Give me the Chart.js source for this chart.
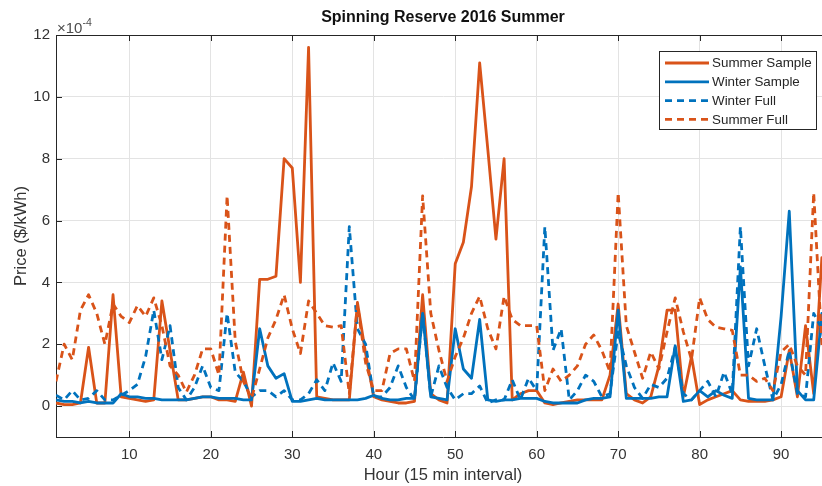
<!DOCTYPE html>
<html>
<head>
<meta charset="utf-8">
<script src="https://cdn.jsdelivr.net/npm/chart.js@4.4.1/dist/chart.umd.min.js"></script>
<style>
  html, body { margin: 0; padding: 0; background: #fff; overflow: hidden; }
  #wrap { width: 822px; height: 486px; overflow: hidden; }
  canvas { display: block; }
</style>
</head>
<body>
<div id="wrap"><canvas id="reserve" width="840" height="486"></canvas></div>
<script>
// 15-minute intervals of one day
const hours = Array.from({ length: 96 }, (_, i) => i + 1);

// prices in units of 1e-4 $/kWh
const summerSample = [
  0.1, 0.05, 0.05, 0.1, 1.9, 0.1, 0.1, 3.6, 0.3, 0.25,
  0.2, 0.15, 0.2, 3.4, 1.8, 0.2, 0.2, 0.25, 0.3, 0.3,
  0.2, 0.2, 0.15, 1.1, 0.0, 4.1, 4.1, 4.2, 8.0, 7.7,
  4.0, 11.6, 0.3, 0.25, 0.2, 0.2, 0.2, 3.35, 1.7, 0.3,
  0.2, 0.15, 0.1, 0.1, 0.15, 3.6, 0.4, 0.2, 0.1, 4.6,
  5.3, 7.1, 11.1, 8.3, 5.4, 8.0, 0.2, 0.4, 0.5, 0.5,
  0.1, 0.05, 0.1, 0.15, 0.2, 0.2, 0.2, 0.2, 1.0, 3.3,
  0.4, 0.2, 0.1, 0.3, 1.3, 3.1, 3.1, 0.3, 1.6, 0.05,
  0.2, 0.3, 0.4, 0.5, 0.2, 0.15, 0.15, 0.15, 0.2, 0.3,
  1.8, 0.3, 2.6, 0.4, 4.8, 3.0
];
const winterSample = [
  0.2, 0.15, 0.15, 0.1, 0.15, 0.1, 0.1, 0.1, 0.4, 0.3,
  0.3, 0.25, 0.25, 0.2, 0.2, 0.2, 0.2, 0.25, 0.3, 0.3,
  0.25, 0.25, 0.25, 0.2, 0.2, 2.5, 1.3, 0.9, 1.05, 0.15,
  0.15, 0.2, 0.25, 0.2, 0.2, 0.2, 0.2, 0.2, 0.25, 0.35,
  0.25, 0.2, 0.2, 0.25, 0.25, 3.0, 0.3, 0.25, 0.2, 2.5,
  1.2, 0.9, 2.8, 0.2, 0.15, 0.2, 0.2, 0.25, 0.25, 0.25,
  0.15, 0.1, 0.1, 0.1, 0.1, 0.2, 0.25, 0.25, 0.3, 3.1,
  0.25, 0.25, 0.25, 0.25, 0.3, 0.3, 1.95, 0.15, 0.2, 0.5,
  0.3, 0.5, 0.35, 0.25, 4.5, 0.25, 0.2, 0.2, 0.2, 2.9,
  6.3, 0.5, 0.2, 0.2, 3.0, 1.0
];
const winterFull = [
  0.35, 0.2, 0.5, 0.2, 0.25, 0.5, 0.2, 0.2, 0.35, 0.5,
  0.7, 1.6, 3.1, 1.5, 2.6, 0.6, 0.2, 0.6, 1.3, 0.6,
  0.5, 3.0, 1.1, 0.8, 0.3, 0.5, 0.5, 0.3, 0.5, 0.2,
  0.2, 0.4, 0.85, 0.5, 1.4, 0.8, 5.8, 2.5, 2.0, 0.3,
  0.3, 0.6, 1.3, 0.6, 0.2, 3.0, 0.3, 1.3, 0.6, 0.2,
  0.4, 0.4, 0.65, 0.1, 0.2, 0.2, 0.85, 0.2, 0.9, 0.5,
  5.8, 1.8, 2.5, 0.2, 0.5, 1.0, 0.8, 0.3, 0.4, 2.4,
  1.3, 0.6, 0.25, 0.7, 0.6, 0.9, 1.9, 0.4, 0.2, 0.5,
  0.8, 0.3, 1.1, 0.4, 5.8, 1.3, 2.5, 1.3, 0.2, 0.7,
  1.8, 0.4, 0.3, 3.0, 2.5, 1.0
];
const summerFull = [
  0.8, 2.0, 1.5, 3.1, 3.6, 3.0, 2.0, 3.3, 2.9, 2.7,
  3.25, 2.9, 3.5, 2.6, 1.3, 1.0, 0.45, 1.0, 1.85, 1.85,
  1.0, 6.8, 2.1, 0.8, 0.25, 1.2, 2.2, 2.8, 3.6, 2.5,
  1.7, 3.4, 3.0, 2.6, 2.55, 2.6, 0.4, 3.3, 1.4, 0.5,
  0.5, 1.7, 1.85, 1.85, 0.8, 6.8, 3.0, 1.8, 0.8, 1.6,
  2.2, 3.0, 3.55, 2.5, 1.85, 3.55, 2.8, 2.6, 2.6, 2.6,
  0.5, 1.2, 0.8, 1.0, 1.3, 2.0, 2.3, 1.8, 1.1, 6.9,
  2.6, 1.75, 0.9, 1.75, 1.2, 2.4, 3.5, 2.4, 1.5, 3.5,
  2.8, 2.55, 2.5, 2.45, 1.0, 1.0, 0.8, 0.9, 0.5, 1.75,
  2.0, 1.3, 1.0, 6.9, 2.0, 1.0
];

const xTicks = [10, 20, 30, 40, 50, 60, 70, 80, 90];
const yTicks = [0, 2, 4, 6, 8, 10, 12];

const ORANGE = '#D95319';
const BLUE = '#0072BD';
const INK = '#262626';
const DASH = [7, 5];
const FONT = '"Liberation Sans", Arial, sans-serif';

const legendItems = [
  { label: 'Summer Sample', color: ORANGE, dash: [] },
  { label: 'Winter Sample', color: BLUE, dash: [] },
  { label: 'Winter Full', color: BLUE, dash: DASH },
  { label: 'Summer Full', color: ORANGE, dash: DASH }
];

function series(values) {
  return values.map((v, i) => ({ x: hours[i], y: v }));
}

// box outline, inward ticks, exponent and the legend
const matlabFrame = {
  id: 'matlabFrame',
  afterDraw(chart) {
    const { ctx, chartArea: a, scales: { x, y } } = chart;
    ctx.save();
    ctx.strokeStyle = INK;
    ctx.lineWidth = 1;
    ctx.beginPath();
    ctx.moveTo(a.left, a.top + 0.5);
    ctx.lineTo(a.right, a.top + 0.5);
    xTicks.forEach(v => {
      const px = Math.round(x.getPixelForValue(v)) + 0.5;
      ctx.moveTo(px, a.bottom);
      ctx.lineTo(px, a.bottom - 6);
      ctx.moveTo(px, a.top);
      ctx.lineTo(px, a.top + 6);
    });
    yTicks.forEach(v => {
      const py = Math.round(y.getPixelForValue(v)) + 0.5;
      ctx.moveTo(a.left, py);
      ctx.lineTo(a.left + 6, py);
    });
    ctx.stroke();

    // exponent label
    ctx.fillStyle = '#4d4d4d';
    ctx.textBaseline = 'alphabetic';
    ctx.font = '15px ' + FONT;
    ctx.fillText('\u00d710', a.left + 1, a.top - 2);
    const w = ctx.measureText('\u00d710').width;
    ctx.font = '10.5px ' + FONT;
    ctx.fillText('-4', a.left + 1 + w, a.top - 9);

    // legend
    const bx = 659, by = 51, bw = 157, bh = 78;
    ctx.fillStyle = '#fff';
    ctx.fillRect(bx, by, bw, bh);
    ctx.strokeStyle = INK;
    ctx.strokeRect(bx + 0.5, by + 0.5, bw, bh);
    ctx.font = '13.4px ' + FONT;
    ctx.textBaseline = 'middle';
    legendItems.forEach((item, i) => {
      const ly = by + 12 + i * 18.8;
      ctx.strokeStyle = item.color;
      ctx.lineWidth = 2.8;
      ctx.setLineDash(item.dash);
      ctx.beginPath();
      ctx.moveTo(bx + 6, ly);
      ctx.lineTo(bx + 50, ly);
      ctx.stroke();
      ctx.setLineDash([]);
      ctx.fillStyle = INK;
      ctx.fillText(item.label, bx + 53, ly + 0.5);
    });
    ctx.restore();
  }
};

Chart.defaults.font.family = FONT;
Chart.defaults.color = INK;

new Chart(document.getElementById('reserve').getContext('2d'), {
  type: 'line',
  data: {
    // first dataset ends up on top
    datasets: [
      { label: 'Summer Full', data: series(summerFull), borderColor: ORANGE, borderDash: DASH, borderWidth: 2.8 },
      { label: 'Winter Full', data: series(winterFull), borderColor: BLUE, borderDash: DASH, borderWidth: 2.8 },
      { label: 'Winter Sample', data: series(winterSample), borderColor: BLUE, borderWidth: 2.8 },
      { label: 'Summer Sample', data: series(summerSample), borderColor: ORANGE, borderWidth: 2.8 }
    ]
  },
  options: {
    responsive: false,
    animation: false,
    layout: { padding: { left: 0, right: 10, top: 0, bottom: 0 } },
    elements: { point: { radius: 0 }, line: { tension: 0, borderJoinStyle: 'round' } },
    scales: {
      x: {
        type: 'linear',
        min: 1,
        max: 96,
        afterBuildTicks: s => { s.ticks = xTicks.map(v => ({ value: v })); },
        afterFit: s => { s.height = 49; },
        ticks: { font: { size: 15 }, color: '#333', padding: 9, maxRotation: 0 },
        grid: { color: '#e3e3e3', drawTicks: false },
        border: { display: true, color: INK, width: 1 },
        title: { display: true, text: 'Hour (15 min interval)', font: { size: 16.5 }, color: '#333', padding: { top: 0, bottom: 1 } }
      },
      y: {
        min: -1,
        max: 12,
        afterBuildTicks: s => { s.ticks = yTicks.map(v => ({ value: v })); },
        afterFit: s => { s.width = 56; },
        ticks: { font: { size: 15 }, color: '#333', padding: 6 },
        grid: { color: '#e3e3e3', drawTicks: false },
        border: { display: true, color: INK, width: 1 },
        title: { display: true, text: 'Price ($/kWh)', font: { size: 16.5 }, color: '#333', padding: { top: 12, bottom: 0 } }
      }
    },
    plugins: {
      legend: { display: false },
      tooltip: { enabled: false },
      title: {
        display: true,
        fullSize: false,
        text: 'Spinning Reserve 2016 Summer',
        font: { size: 16, weight: 'bold' },
        color: '#111',
        padding: { top: 8, bottom: 7.8 }
      }
    }
  },
  plugins: [matlabFrame]
});
</script>
</body>
</html>
